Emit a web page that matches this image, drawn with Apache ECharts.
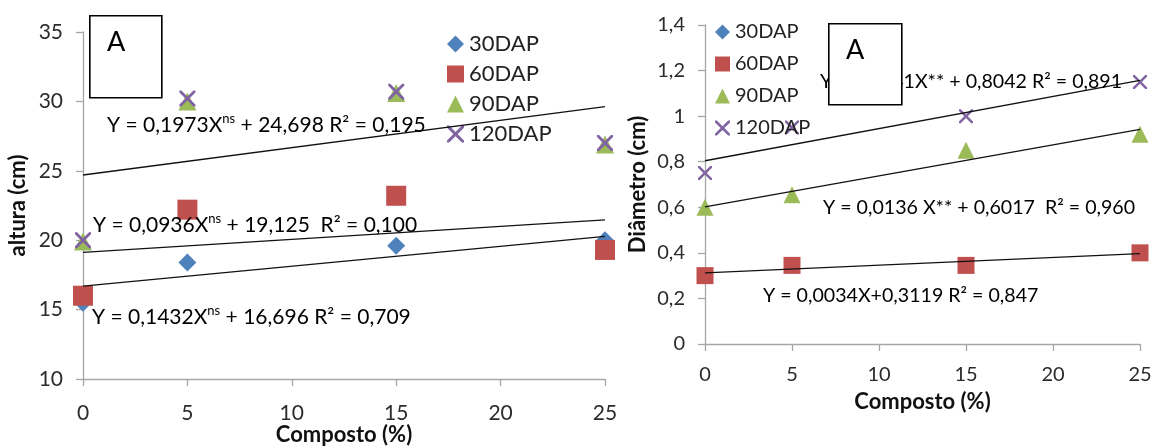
<!DOCTYPE html>
<html>
<head>
<meta charset="utf-8">
<script src="https://cdn.jsdelivr.net/npm/echarts@6/dist/echarts.min.js"></script>
<style>
  html, body { margin: 0; padding: 0; background: #ffffff; }
  #chart { width: 1157px; height: 446px; }
</style>
</head>
<body>
<div id="chart"></div>
<script>
// Doses de composto (%)
const composto = [0, 5, 15, 25];
const seriesNames = ['30DAP', '60DAP', '90DAP', '120DAP'];

// Altura das plantas (cm) por época de avaliação
const altura30 = [15.5, 18.4, 19.6, 20.0];
const altura60 = [16.0, 22.2, 23.2, 19.3];
const altura90 = [19.9, 30.0, 30.6, 26.9];
const altura120 = [20.0, 30.2, 30.7, 27.0];

// Diâmetro do caule (cm) por época de avaliação
const diam30 = [];
const diam60 = [0.30, 0.345, 0.345, 0.40];
const diam90 = [0.60, 0.655, 0.85, 0.92];
const diam120 = [0.75, 0.95, 1.00, 1.15];

// Regressões lineares: inclinação, intercepto
const alturaSlope = [0.1432, 0.0936, 0.1973];
const alturaInter = [16.696, 19.125, 24.698];
const diamSlope = [0.0034, 0.0136, 0.0141];
const diamInter = [0.3119, 0.6017, 0.8042];

// Equações exibidas
const alturaEq = [
  '{m|Y = 0,1432X}{s|ns}{m| + 16,696 R² = 0,709}',
  '{m|Y = 0,0936X}{s|ns}{m| + 19,125  R² = 0,100}',
  '{m|Y = 0,1973X}{s|ns}{m| + 24,698 R² = 0,195}'
];
const diamEq = [
  '{m|Y = 0,0034X+0,3119 R² = 0,847}',
  '{m|Y = 0,0136 X** + 0,6017  R² = 0,960}',
  '{m|Y = 0,0141X** + 0,8042 R² = 0,891}'
];

const FONT = 'Lato';
const colors = { c30: '#4F81BD', c60: '#C0504D', c90: '#9BBB59', c120: '#8064A2' };
const crossPath = 'path://M0,0 L2.5,0 L10,7.5 L17.5,0 L20,0 L20,2.5 L12.5,10 L20,17.5 L20,20 L17.5,20 L10,12.5 L2.5,20 L0,20 L0,17.5 L7.5,10 L0,2.5 Z';

const pairs = (ys) => ys.map((y, i) => [composto[i], y]);
const trend = (slope, inter) => [[composto[0], inter], [composto[composto.length - 1], inter + slope * composto[composto.length - 1]]];

function axisCommon(fontSize, margin) {
  return {
    axisLine: { show: true, lineStyle: { color: '#a6a6a6', width: 1.3 } },
    axisTick: { show: true, inside: false, length: 7, lineStyle: { color: '#a6a6a6', width: 1.3 } },
    splitLine: { show: false },
    axisLabel: { fontFamily: FONT, fontSize: fontSize, color: '#2b2b2b', margin: margin },
    nameMoveOverlap: false,
    nameTextStyle: { fontFamily: FONT, fontWeight: 'bold', fontSize: 22, color: '#111111' }
  };
}
const decimalComma = (v) => String(+v.toFixed(1)).replace('.', ',');

function scatter(name, data, xi, symbol, size, color) {
  return {
    type: 'scatter', name: name, xAxisIndex: xi, yAxisIndex: xi, data: data,
    symbol: symbol, symbolSize: size, itemStyle: { color: color, opacity: 1 }, z: 2
  };
}
function trendLine(name, data, xi) {
  return {
    type: 'line', name: name, xAxisIndex: xi, yAxisIndex: xi, data: data,
    symbol: 'none', silent: true, z: 4,
    lineStyle: { color: '#111111', width: 1.3 }
  };
}

const eqRich = (size) => ({
  m: { fontFamily: FONT, fontSize: size, color: '#111111', lineHeight: 26 },
  s: { fontFamily: FONT, fontSize: 13, color: '#111111', lineHeight: 15, verticalAlign: 'top' }
});
function eqText(text, left, top, size) {
  return { type: 'text', left: left, top: top, z: 10, style: { text: text, rich: eqRich(size) } };
}
function boxA(left, top, w, h) {
  return [
    { type: 'rect', left: left, top: top, z: 20, shape: { width: w, height: h },
      style: { fill: '#ffffff', stroke: '#000000', lineWidth: 1.6 } },
    { type: 'text', left: left + 18, top: top + 14, z: 21,
      style: { text: 'A', fontFamily: FONT, fontSize: 27, fill: '#000000' } }
  ];
}

const option = {
  animation: false,
  backgroundColor: '#ffffff',
  grid: [
    { left: 83, right: 552, top: 32, bottom: 67, containLabel: false, outerBoundsMode: 'none' },
    { left: 705, right: 17, top: 25, bottom: 102, containLabel: false, outerBoundsMode: 'none' }
  ],
  xAxis: [
    Object.assign(axisCommon(21, 24), {
      type: 'value', gridIndex: 0, min: 0, max: 25, interval: 5,
      name: 'Composto (%)', nameLocation: 'middle', nameGap: 45
    }),
    Object.assign(axisCommon(20, 21), {
      type: 'value', gridIndex: 1, min: 0, max: 25, interval: 5,
      name: 'Composto (%)', nameLocation: 'middle', nameGap: 47
    })
  ],
  yAxis: [
    Object.assign(axisCommon(21, 20), {
      type: 'value', gridIndex: 0, min: 10, max: 35, interval: 5,
      name: 'altura (cm)', nameLocation: 'middle', nameGap: 54
    }),
    Object.assign(axisCommon(20, 20), {
      type: 'value', gridIndex: 1, min: 0, max: 1.4, interval: 0.2,
      name: 'Diâmetro (cm)', nameLocation: 'middle', nameGap: 56
    })
  ],
  legend: [
    { orient: 'vertical', left: 442, top: 28, data: seriesNames, itemWidth: 17, itemHeight: 17, itemGap: 8,
      textStyle: { fontFamily: FONT, fontSize: 22, color: '#222222' } },
    { orient: 'vertical', left: 710, top: 17, data: seriesNames, itemWidth: 15, itemHeight: 15, itemGap: 12,
      textStyle: { fontFamily: FONT, fontSize: 20, color: '#222222' } }
  ],
  series: [
    scatter('30DAP', pairs(altura30), 0, 'diamond', 18, colors.c30),
    scatter('60DAP', pairs(altura60), 0, 'rect', 20, colors.c60),
    scatter('90DAP', pairs(altura90), 0, 'triangle', 18, colors.c90),
    scatter('120DAP', pairs(altura120), 0, crossPath, 16, colors.c120),
    trendLine('Linear (30DAP)', trend(alturaSlope[0], alturaInter[0]), 0),
    trendLine('Linear (60DAP)', trend(alturaSlope[1], alturaInter[1]), 0),
    trendLine('Linear (120DAP)', trend(alturaSlope[2], alturaInter[2]), 0),

    scatter('30DAP', pairs(diam30), 1, 'diamond', 16, colors.c30),
    scatter('60DAP', pairs(diam60), 1, 'rect', 17, colors.c60),
    scatter('90DAP', pairs(diam90), 1, 'triangle', 17, colors.c90),
    scatter('120DAP', pairs(diam120), 1, crossPath, 14, colors.c120),
    trendLine('Linear (60DAP) d', trend(diamSlope[0], diamInter[0]), 1),
    trendLine('Linear (90DAP) d', trend(diamSlope[1], diamInter[1]), 1),
    trendLine('Linear (120DAP) d', trend(diamSlope[2], diamInter[2]), 1)
  ],
  graphic: [
    eqText(alturaEq[0], 92, 304, 21),
    eqText(alturaEq[1], 93, 212, 21),
    eqText(alturaEq[2], 107, 112, 21),
    eqText(diamEq[0], 763, 286, 19.6),
    eqText(diamEq[1], 823, 198, 19.6),
    eqText(diamEq[2], 820, 72, 19.6)
  ].concat(boxA(89, 15, 72, 82), boxA(828, 23, 73, 81))
};
option.yAxis[1].axisLabel.formatter = decimalComma;

const chart = echarts.init(document.getElementById('chart'), null, { renderer: 'canvas' });
chart.setOption(option);
</script>
</body>
</html>
